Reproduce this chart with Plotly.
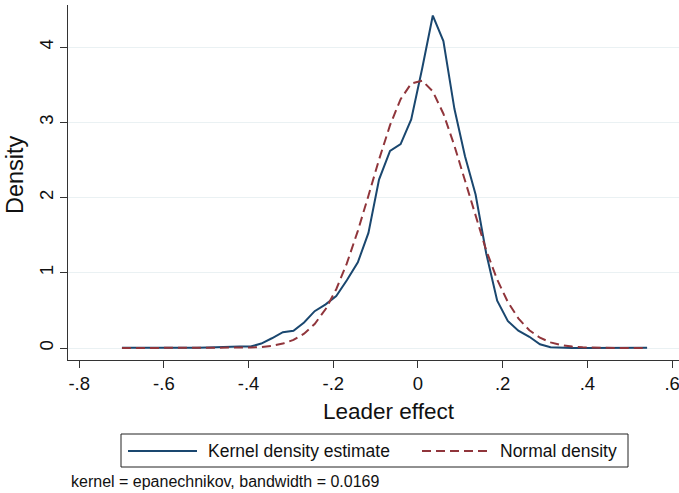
import plotly.graph_objects as go

# Evaluation grid (Leader effect)
x_grid = [-0.699, -0.674, -0.648, -0.623, -0.598, -0.572, -0.547, -0.522, -0.497, -0.471,
          -0.446, -0.421, -0.395, -0.370, -0.345, -0.319, -0.294, -0.269, -0.244, -0.218,
          -0.193, -0.168, -0.142, -0.117, -0.092, -0.066, -0.041, -0.016, 0.010, 0.035,
          0.060, 0.086, 0.111, 0.136, 0.161, 0.187, 0.212, 0.237, 0.263, 0.288,
          0.313, 0.339, 0.364, 0.389, 0.415, 0.440, 0.465, 0.490, 0.516, 0.541]

# Kernel density estimate
kde_vals = [0.005, 0.004, 0.002, 0.001, 0.001, 0.001, 0.002, 0.004, 0.008, 0.015,
            0.020, 0.020, 0.020, 0.060, 0.130, 0.210, 0.230, 0.340, 0.490, 0.580,
            0.690, 0.900, 1.140, 1.530, 2.240, 2.620, 2.710, 3.040, 3.720, 4.420,
            4.080, 3.180, 2.550, 2.040, 1.260, 0.630, 0.360, 0.230, 0.150, 0.050,
            0.010, 0.003, 0.002, 0.002, 0.002, 0.002, 0.002, 0.003, 0.004, 0.005]

# Normal density
normal_vals = [0.000, 0.000, 0.000, 0.000, 0.000, 0.000, 0.000, 0.000, 0.000, 0.001,
               0.001, 0.003, 0.007, 0.014, 0.029, 0.059, 0.108, 0.191, 0.319, 0.518,
               0.782, 1.125, 1.558, 2.025, 2.505, 2.962, 3.309, 3.516, 3.553, 3.411,
               3.115, 2.689, 2.218, 1.741, 1.300, 0.910, 0.614, 0.394, 0.236, 0.137,
               0.075, 0.039, 0.019, 0.009, 0.004, 0.002, 0.001, 0.000, 0.000, 0.000]

x_ticks = [-0.8, -0.6, -0.4, -0.2, 0.0, 0.2, 0.4, 0.6]
x_tick_labels = ["-.8", "-.6", "-.4", "-.2", "0", ".2", ".4", ".6"]
y_ticks = [0, 1, 2, 3, 4]
y_tick_labels = ["0", "1", "2", "3", "4"]

series_names = ["Kernel density estimate", "Normal density"]
x_title = "Leader effect"
y_title = "Density"
note_text = "kernel = epanechnikov, bandwidth = 0.0169"

BLUE = "#1a476f"
RED = "#90353b"
FONT = "Liberation Sans, Arial, sans-serif"
TXT = "#111111"

W, H = 679, 493
L, R, T, B = 68, 0, 5, 133
PW, PH = W - L - R, H - T - B


def px(xp):
    return (xp - L) / PW


def py(yp):
    return (H - B - yp) / PH


fig = go.Figure()
fig.add_trace(go.Scatter(x=x_grid, y=kde_vals, mode="lines", name=series_names[0],
                         line=dict(color=BLUE, width=2), showlegend=False))
fig.add_trace(go.Scatter(x=x_grid, y=normal_vals, mode="lines", name=series_names[1],
                         line=dict(color=RED, width=2, dash="9px,5px"), showlegend=False))

# custom legend box (Stata style)
shapes = [
    dict(type="rect", xref="paper", yref="paper", x0=px(121), x1=px(628), y0=py(434), y1=py(467),
         line=dict(color="#222222", width=1), fillcolor="white"),
    dict(type="line", xref="paper", yref="paper", x0=px(128), x1=px(197), y0=py(451), y1=py(451),
         line=dict(color=BLUE, width=2)),
    dict(type="line", xref="paper", yref="paper", x0=px(422), x1=px(488), y0=py(451), y1=py(451),
         line=dict(color=RED, width=2, dash="9px,5px")),
]
annotations = [
    dict(xref="paper", yref="paper", x=px(206), y=py(451), text=series_names[0], showarrow=False,
         xanchor="left", yanchor="middle", font=dict(family=FONT, size=17.5, color=TXT)),
    dict(xref="paper", yref="paper", x=px(498), y=py(451), text=series_names[1], showarrow=False,
         xanchor="left", yanchor="middle", font=dict(family=FONT, size=17.5, color=TXT)),
    dict(xref="paper", yref="paper", x=px(69), y=py(481), text=note_text, showarrow=False,
         xanchor="left", yanchor="middle", font=dict(family=FONT, size=16, color=TXT)),
    dict(xref="paper", yref="paper", x=px(389), y=py(411), text=x_title, showarrow=False,
         xanchor="center", yanchor="middle", font=dict(family=FONT, size=22.5, color=TXT)),
    dict(xref="paper", yref="paper", x=px(15), y=py(175), text=y_title, showarrow=False,
         textangle=-90, xanchor="center", yanchor="middle",
         font=dict(family=FONT, size=23.5, color=TXT)),
]

fig.update_layout(
    width=W, height=H,
    margin=dict(l=L, r=R, t=T, b=B, autoexpand=False),
    paper_bgcolor="white", plot_bgcolor="white",
    font=dict(family=FONT, color=TXT),
    shapes=shapes, annotations=annotations,
    showlegend=False,
)
fig.update_xaxes(
    range=[-0.8264, 0.6163], tickvals=x_ticks, ticktext=x_tick_labels, automargin=False,
    ticklabeloverflow="allow",
    showgrid=False, zeroline=False, showline=True, linecolor="#333333", linewidth=1.2,
    ticks="outside", ticklen=7, tickcolor="#333333", tickfont=dict(size=18.5),
)
fig.update_yaxes(
    range=[-0.159, 4.56], tickvals=y_ticks, ticktext=y_tick_labels, automargin=False,
    ticklabeloverflow="allow",
    showgrid=True, gridcolor="#eaf1f3", gridwidth=1.2, zeroline=False,
    showline=True, linecolor="#333333", linewidth=1.2,
    ticks="outside", ticklen=7, tickcolor="#333333", tickfont=dict(size=18.5), tickangle=-90,
)

fig.write_html("out.html", config={"displayModeBar": False},
               post_script="document.body.style.margin='0px';document.body.style.overflow='hidden';")
